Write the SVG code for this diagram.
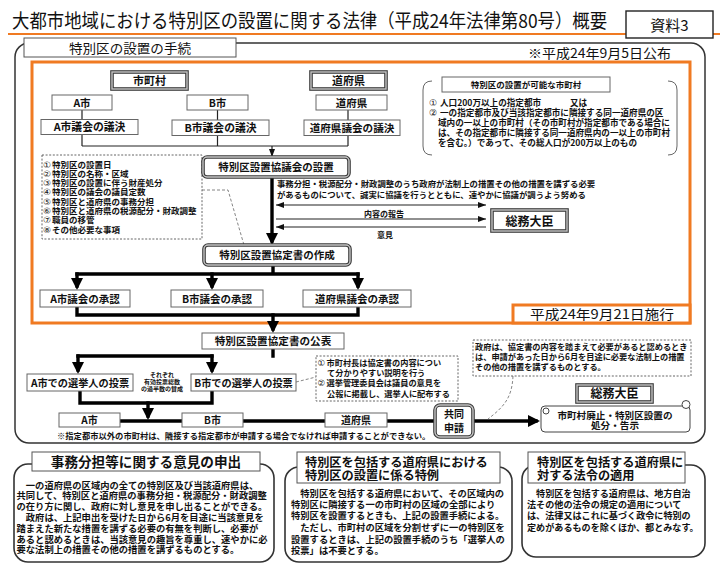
<svg xmlns="http://www.w3.org/2000/svg" width="720" height="567" viewBox="0 0 720 567">
<defs>
<style>
text{font-family:"Noto Sans CJK JP","Noto Sans CJK SC",sans-serif;fill:#111;font-weight:bold}
.m{text-anchor:middle}
.e{text-anchor:end}
.n{font-weight:normal}
.cn{font-family:"DejaVu Sans","Noto Sans CJK JP",sans-serif;font-weight:normal}
.bx{fill:#fff;stroke:#666;stroke-width:1}
.d1{fill:#fff;stroke:#3a3a3a;stroke-width:3.6}
.d2{fill:none;stroke:#c4c4c4;stroke-width:1.4}
.dot{fill:#fff;stroke:#555;stroke-width:0.9;stroke-dasharray:2 1.6}
.org{fill:none;stroke:#F07A22;stroke-width:3}
.rb{fill:#fff;stroke:#333;stroke-width:1.6}
.tn{fill:none;stroke:#222;stroke-width:1.2}
.tk{fill:none;stroke:#000;stroke-width:3.4;stroke-linecap:square}
.dsh{fill:none;stroke:#777;stroke-width:0.9;stroke-dasharray:3 2}
</style>
<marker id="a" markerUnits="userSpaceOnUse" markerWidth="8" markerHeight="6" refX="8" refY="3" orient="auto-start-reverse"><path d="M0,0L8,3L0,6z" fill="#111"/></marker>
<marker id="A" markerUnits="userSpaceOnUse" markerWidth="12" markerHeight="12" refX="8" refY="6" orient="auto"><path d="M0,0L12,6L0,12z" fill="#000"/></marker>
</defs>
<rect width="720" height="567" fill="#fff"/>
<g id="title">
<line x1="8" y1="34" x2="720" y2="34" stroke="#F07A22" stroke-width="2"/>
<text x="12" y="25.45" font-size="17.4" class="n" transform="scale(1,1.1)">大都市地域における特別区の設置に関する法律（平成24年法律第80号）概要</text>
</g>
<g id="doc-label"><rect x="626" y="11" width="87" height="27" fill="#fff" stroke="#222" stroke-width="1.4"/><text x="669.5" y="30.5" font-size="15" class="m n">資料3</text></g>
<g id="frame">
<rect x="15" y="43" width="690" height="400" rx="14" fill="none" stroke="#333" stroke-width="1.5"/>
<rect x="24" y="38" width="212" height="19" fill="#fff" stroke="#555" stroke-width="1"/>
<text x="130" y="52.5" font-size="13" class="m n" textLength="122" lengthAdjust="spacingAndGlyphs">特別区の設置の手続</text>
<text x="671" y="58" font-size="13" class="e n" textLength="143" lengthAdjust="spacingAndGlyphs">※平成24年9月5日公布</text>
<rect x="32" y="62" width="658" height="261" class="org"/>
</g>
<g id="connectors">
<path class="tn" d="M82,110V119.5M82,134.5V146M217.5,110V120M217.5,135.5V146M348,110V120M348,135.5V146M82,146H348"/>
<line class="tn" x1="272" y1="146" x2="272" y2="157" marker-end="url(#a)"/>
<line class="tk" x1="272" y1="177" x2="272" y2="241" marker-end="url(#A)"/>
<polyline class="dsh" points="202,190 228,190 244,245"/>
<line class="tn" x1="276" y1="205" x2="486" y2="205" marker-start="url(#a)" marker-end="url(#a)"/>
<line class="tn" x1="276" y1="219" x2="486" y2="219" marker-end="url(#a)"/>
<line class="tn" x1="486" y1="227" x2="276" y2="227" marker-end="url(#a)"/>
<path class="tk" d="M273,265V274M77,274H358"/>
<line class="tk" x1="77" y1="274" x2="77" y2="286" marker-end="url(#A)"/>
<line class="tk" x1="212" y1="274" x2="212" y2="286" marker-end="url(#A)"/>
<line class="tk" x1="358" y1="274" x2="358" y2="286" marker-end="url(#A)"/>
<path class="tk" d="M77,307V315H358V307"/>
<line class="tk" x1="273" y1="315" x2="273" y2="329" marker-end="url(#A)"/>
<path class="tk" d="M273,349V356M78,356H212"/>
<line class="tk" x1="78" y1="356" x2="78" y2="370" marker-end="url(#A)"/>
<line class="tk" x1="212" y1="356" x2="212" y2="370" marker-end="url(#A)"/>
<path class="tk" d="M80,391V403H212V391"/>
<line class="tk" x1="148" y1="403" x2="148" y2="416" marker-end="url(#A)"/>
<line class="dsh" x1="296" y1="382" x2="316" y2="377"/>
<line class="tk" x1="120" y1="421" x2="435" y2="421"/>
<line class="tk" x1="473" y1="421" x2="536" y2="421" marker-end="url(#A)"/>
<path class="dsh" d="M513,376C512,397 505,406 488,419"/>
</g>
<g id="n-shichoson"><rect class="d1" x="112" y="72" width="75" height="17"/><rect class="d2" x="112" y="72" width="75" height="17"/><text x="149.5" y="84.8" font-size="11" class="m">市町村</text></g>
<g id="n-dofuken-head"><rect class="d1" x="311" y="72" width="75" height="17"/><rect class="d2" x="311" y="72" width="75" height="17"/><text x="348.5" y="84.8" font-size="11" class="m">道府県</text></g>
<g id="n-a"><rect class="bx" x="52" y="95" width="60" height="15"/><text x="82" y="106.5" font-size="10.5" class="m">A市</text></g>
<g id="n-b"><rect class="bx" x="187" y="95" width="61" height="15"/><text x="217.5" y="106.5" font-size="10.5" class="m">B市</text></g>
<g id="n-dofuken"><rect class="bx" x="316" y="95" width="71" height="15"/><text x="351.5" y="106.5" font-size="10.5" class="m">道府県</text></g>
<g id="n-a-giketsu"><rect class="bx" x="41" y="119.5" width="97" height="15"/><text x="89.5" y="131" font-size="10.8" class="m">A市議会の議決</text></g>
<g id="n-b-giketsu"><rect class="bx" x="172" y="120" width="97" height="15.5"/><text x="220.5" y="131.5" font-size="10.8" class="m">B市議会の議決</text></g>
<g id="n-d-giketsu"><rect class="bx" x="304" y="120" width="96" height="15.5"/><text x="352" y="131.5" font-size="10.6" class="m">道府県議会の議決</text></g>
<g id="n-kanou">
<path d="M432,81Q423,81 423,90V146Q423,155 432,155" fill="none" stroke="#666" stroke-width="1"/>
<path d="M668,81Q677,81 677,90V146Q677,155 668,155" fill="none" stroke="#666" stroke-width="1"/>
<rect class="bx" x="442" y="77" width="168" height="15"/>
<text x="526" y="88" font-size="8.5" class="m">特別区の設置が可能な市町村</text>
<text font-size="8.6"><tspan x="429" y="106" class="cn" font-size="9">①</tspan><tspan x="440" y="106">人口200万以上の指定都市</tspan><tspan x="570" y="106">又は</tspan><tspan x="429" y="116" class="cn" font-size="9">②</tspan><tspan x="440" y="116">一の指定都市及び当該指定都市に隣接する同一道府県の区</tspan><tspan x="438" y="126">域内の一以上の市町村（その市町村が指定都市である場合に</tspan><tspan x="438" y="136">は、その指定都市に隣接する同一道府県内の一以上の市町村</tspan><tspan x="438" y="146">を含む。）であって、その総人口が200万以上のもの</tspan></text>
</g>
<g id="n-items"><rect class="dot" x="42" y="155" width="160" height="84"/>
<text font-size="8.5"><tspan x="43" y="167.5" class="cn" font-size="8.8">①</tspan><tspan x="52" y="167.5">特別区の設置日</tspan><tspan x="43" y="176.8" class="cn" font-size="8.8">②</tspan><tspan x="52" y="176.8">特別区の名称・区域</tspan><tspan x="43" y="186.1" class="cn" font-size="8.8">③</tspan><tspan x="52" y="186.1">特別区の設置に伴う財産処分</tspan><tspan x="43" y="195.4" class="cn" font-size="8.8">④</tspan><tspan x="52" y="195.4">特別区の議会の議員定数</tspan><tspan x="43" y="204.7" class="cn" font-size="8.8">⑤</tspan><tspan x="52" y="204.7">特別区と道府県の事務分担</tspan><tspan x="43" y="214" class="cn" font-size="8.8">⑥</tspan><tspan x="52" y="214">特別区と道府県の税源配分・財政調整</tspan><tspan x="43" y="223.3" class="cn" font-size="8.8">⑦</tspan><tspan x="52" y="223.3">職員の移管</tspan><tspan x="43" y="232.6" class="cn" font-size="8.8">⑧</tspan><tspan x="52" y="232.6">その他必要な事項</tspan></text>
</g>
<g id="n-kyogikai"><rect class="d1" x="203" y="157" width="146" height="20" rx="4"/><rect class="d2" x="203" y="157" width="146" height="20" rx="4"/><text x="276" y="171" font-size="10.5" class="m">特別区設置協議会の設置</text></g>
<g id="l-kyogi"><text font-size="8.4"><tspan x="277" y="186.5">事務分担・税源配分・財政調整のうち政府が法制上の措置その他の措置を講ずる必要</tspan><tspan x="277" y="198">があるものについて、誠実に協議を行うとともに、速やかに協議が調うよう努める</tspan></text>
<text x="384" y="217" font-size="8" class="m">内容の報告</text><text x="385" y="238" font-size="8" class="m">意見</text></g>
<g id="n-somu1"><rect class="d1" x="492" y="210" width="75" height="21"/><rect class="d2" x="492" y="210" width="75" height="21"/><text x="529.5" y="225.5" font-size="12" class="m">総務大臣</text></g>
<g id="n-kyoteisho"><rect class="d1" x="204" y="245" width="146" height="20" rx="4"/><rect class="d2" x="204" y="245" width="146" height="20" rx="4"/><text x="277" y="259" font-size="10.5" class="m">特別区設置協定書の作成</text></g>
<g id="n-a-shonin"><rect class="bx" x="40" y="290" width="90" height="17"/><text x="85" y="302.5" font-size="10.5" class="m">A市議会の承認</text></g>
<g id="n-b-shonin"><rect class="bx" x="171" y="290" width="92" height="17"/><text x="217" y="302.5" font-size="10.5" class="m">B市議会の承認</text></g>
<g id="n-d-shonin"><rect class="bx" x="303" y="290" width="108" height="17"/><text x="357" y="302.5" font-size="10.5" class="m">道府県議会の承認</text></g>
<g id="n-seko"><rect x="513" y="305" width="177" height="18" fill="#fff" stroke="#F07A22" stroke-width="3"/><text x="602" y="318.5" font-size="13" class="m n" textLength="144" lengthAdjust="spacingAndGlyphs">平成24年9月21日施行</text></g>
<g id="n-kohyo"><rect class="bx" x="202" y="333" width="142" height="16"/><text x="273" y="345" font-size="10.6" class="m">特別区設置協定書の公表</text></g>
<g id="n-a-tohyo"><rect class="bx" x="27" y="374" width="106" height="17"/><text x="80" y="386.5" font-size="10.2" class="m">A市での選挙人の投票</text></g>
<g id="n-b-tohyo"><rect class="bx" x="191" y="374" width="105" height="17"/><text x="243.5" y="386.5" font-size="10.2" class="m">B市での選挙人の投票</text></g>
<g id="l-kahansu"><text font-size="6" class="m"><tspan x="162" y="377">それぞれ</tspan><tspan x="162" y="384">有効投票総数</tspan><tspan x="162" y="391">の過半数の賛成</tspan></text></g>
<g id="n-setsumei"><rect class="dot" x="316" y="356" width="142" height="45"/>
<text font-size="8.2"><tspan x="317.5" y="365.5" class="cn" font-size="8.6">①</tspan><tspan x="326.5" y="365.5">市町村長は協定書の内容につい</tspan><tspan x="327" y="375.5">て分かりやすい説明を行う</tspan><tspan x="317.5" y="386" class="cn" font-size="8.6">②</tspan><tspan x="326.5" y="386">選挙管理委員会は議員の意見を</tspan><tspan x="327" y="396.5">公報に掲載し、選挙人に配布する</tspan></text></g>
<g id="n-seifu"><rect class="dot" x="473" y="340" width="218" height="36"/>
<text font-size="8.2"><tspan x="475" y="349.5">政府は、協定書の内容を踏まえて必要があると認めるとき</tspan><tspan x="475" y="359.5">は、申請があった日から6月を目途に必要な法制上の措置</tspan><tspan x="475" y="369.5">その他の措置を講ずるものとする。</tspan></text></g>
<g id="n-a2"><rect class="bx" x="59" y="413" width="61" height="14"/><text x="89.5" y="424" font-size="10" class="m">A市</text></g>
<g id="n-b2"><rect class="bx" x="182" y="413" width="61" height="14"/><text x="212.5" y="424" font-size="10" class="m">B市</text></g>
<g id="n-d2"><rect class="bx" x="325" y="413" width="62" height="14"/><text x="356" y="424" font-size="10" class="m">道府県</text></g>
<g id="n-kyodo"><rect class="d1" x="435" y="405" width="38" height="32" rx="5"/><rect class="d2" x="435" y="405" width="38" height="32" rx="5"/><text font-size="10" class="m"><tspan x="454" y="418">共同</tspan><tspan x="454" y="431.5">申請</tspan></text></g>
<g id="n-somu2"><rect class="d1" x="577" y="385" width="75" height="17"/><rect class="d2" x="577" y="385" width="75" height="17"/><text x="614.5" y="398" font-size="12" class="m">総務大臣</text></g>
<g id="n-kokuji">
<rect x="541" y="406" width="149" height="26" rx="4" fill="#fff" stroke="#444" stroke-width="1"/>
<circle cx="686" cy="404.5" r="4" fill="#fff" stroke="#444" stroke-width="1"/>
<circle cx="546" cy="411" r="3" fill="#fff" stroke="#444" stroke-width="1"/>
<text font-size="9.6" class="m"><tspan x="615" y="418.5">市町村廃止・特別区設置の</tspan><tspan x="615" y="429">処分・告示</tspan></text>
</g>
<g id="l-note"><text x="57" y="438.5" font-size="8.3">※指定都市以外の市町村は、隣接する指定都市が申請する場合でなければ申請することができない。</text></g>
<g id="box-ikensho">
<rect class="rb" x="14" y="464" width="260" height="98" rx="14"/>
<rect x="32" y="452" width="228" height="19" fill="#fff" stroke="#555" stroke-width="1"/>
<text x="146" y="466.5" font-size="13.6" class="m">事務分担等に関する意見の申出</text>
<text font-size="9.3"><tspan x="16.5" y="488.5">　一の道府県の区域内の全ての特別区及び当該道府県は、</tspan><tspan x="16.5" y="499.3">共同して、特別区と道府県の事務分担・税源配分・財政調整</tspan><tspan x="16.5" y="510.1">の在り方に関し、政府に対し意見を申し出ることができる。</tspan><tspan x="16.5" y="520.9">　政府は、上記申出を受けた日から6月を目途に当該意見を</tspan><tspan x="16.5" y="531.7">踏まえた新たな措置を講ずる必要の有無を判断し、必要が</tspan><tspan x="16.5" y="542.5">あると認めるときは、当該意見の趣旨を尊重し、速やかに必</tspan><tspan x="16.5" y="553.3">要な法制上の措置その他の措置を講ずるものとする。</tspan></text>
</g>
<g id="box-tokurei">
<rect class="rb" x="285" y="467" width="227" height="95" rx="14"/>
<rect x="297" y="452" width="203" height="31" fill="#fff" stroke="#555" stroke-width="1"/>
<text font-size="12.2"><tspan x="305" y="466.5">特別区を包括する道府県における</tspan><tspan x="305" y="480">特別区の設置に係る特例</tspan></text>
<text font-size="9.3"><tspan x="291" y="496.6">　特別区を包括する道府県において、その区域内の</tspan><tspan x="291" y="508.1">特別区に隣接する一の市町村の区域の全部により</tspan><tspan x="291" y="519.4">特別区を設置するときも、上記の設置手続による。</tspan><tspan x="291" y="531.2">　ただし、市町村の区域を分割せずに一の特別区を</tspan><tspan x="291" y="542.5">設置するときは、上記の設置手続のうち「選挙人の</tspan><tspan x="291" y="553.5">投票」は不要とする。</tspan></text>
</g>
<g id="box-horei">
<rect class="rb" x="522" y="465" width="183" height="92" rx="14"/>
<rect x="528" y="452" width="157" height="31" fill="#fff" stroke="#555" stroke-width="1"/>
<text font-size="12.2"><tspan x="537" y="466.5">特別区を包括する道府県に</tspan><tspan x="537" y="480">対する法令の適用</tspan></text>
<text font-size="9.1"><tspan x="527" y="496.6">　特別区を包括する道府県は、地方自治</tspan><tspan x="527" y="508.1">法その他の法令の規定の適用について</tspan><tspan x="527" y="519.4">は、法律又はこれに基づく政令に特別の</tspan><tspan x="527" y="530.7">定めがあるものを除くほか、都とみなす。</tspan></text>
</g>
</svg>
